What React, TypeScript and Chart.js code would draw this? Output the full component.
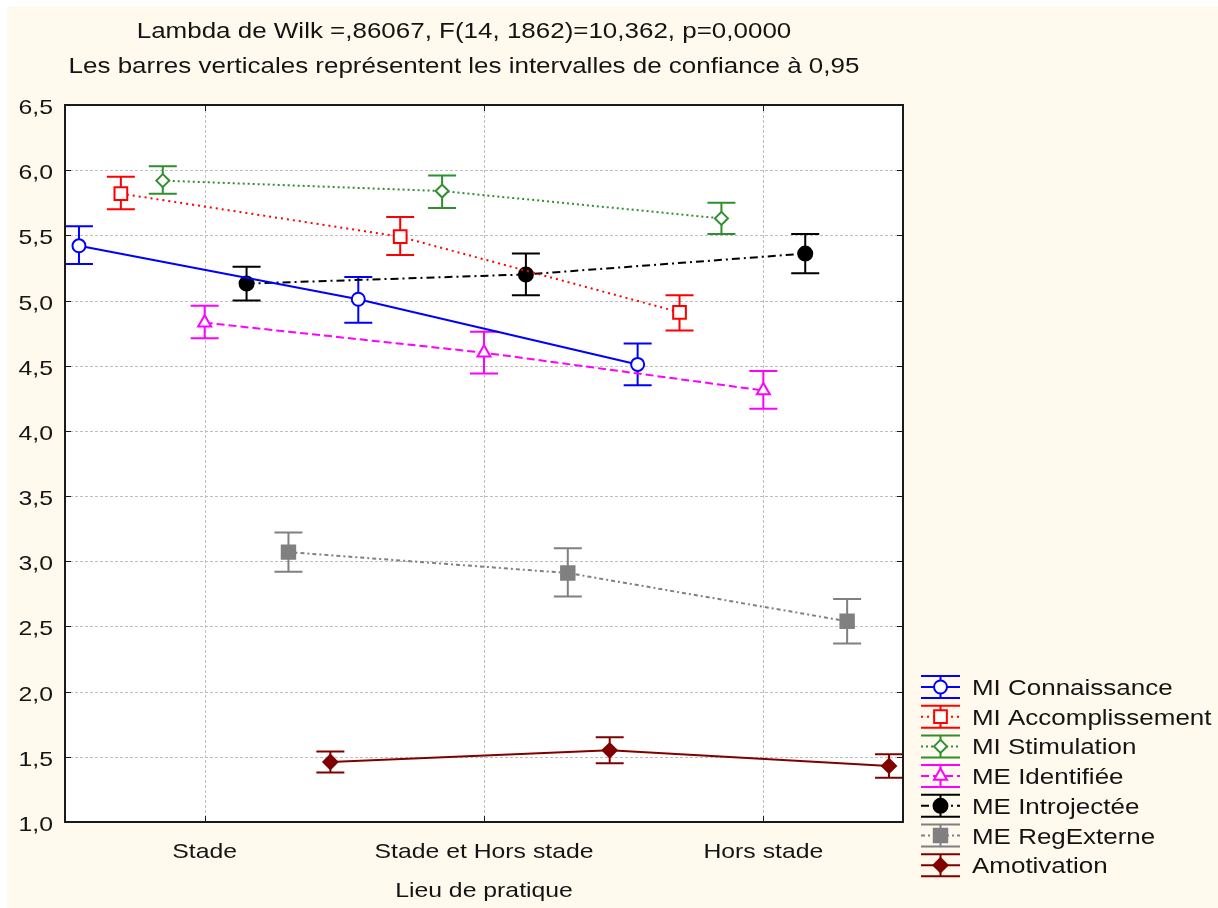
import React, { useEffect, useRef } from 'react';
import { Chart, registerables } from 'chart.js';

Chart.register(...registerables);

// ---------- data ----------
const categories = ['Stade', 'Stade et Hors stade', 'Hors stade'];
const yTickValues = [1.0, 1.5, 2.0, 2.5, 3.0, 3.5, 4.0, 4.5, 5.0, 5.5, 6.0, 6.5];
const titleLines = [
  'Lambda de Wilk =,86067, F(14, 1862)=10,362, p=0,0000',
  'Les barres verticales représentent les intervalles de confiance à 0,95',
];
const xAxisTitle = 'Lieu de pratique';

const seriesNames = [
  'MI Connaissance',
  'MI Accomplissement',
  'MI Stimulation',
  'ME Identifiée',
  'ME Introjectée',
  'ME RegExterne',
  'Amotivation',
];

const miConnaissance = [5.42, 5.01, 4.51];
const miConnaissanceHaut = [5.57, 5.18, 4.67];
const miConnaissanceBas = [5.28, 4.83, 4.35];

const miAccomplissement = [5.82, 5.49, 4.91];
const miAccomplissementHaut = [5.95, 5.64, 5.04];
const miAccomplissementBas = [5.7, 5.35, 4.77];

const miStimulation = [5.92, 5.84, 5.63];
const miStimulationHaut = [6.03, 5.96, 5.75];
const miStimulationBas = [5.82, 5.71, 5.51];

const meIdentifiee = [4.83, 4.6, 4.31];
const meIdentifieeHaut = [4.96, 4.76, 4.46];
const meIdentifieeBas = [4.71, 4.44, 4.17];

const meIntrojectee = [5.13, 5.2, 5.36];
const meIntrojecteeHaut = [5.26, 5.36, 5.51];
const meIntrojecteeBas = [5.0, 5.04, 5.21];

const meRegExterne = [3.07, 2.91, 2.54];
const meRegExterneHaut = [3.22, 3.1, 2.71];
const meRegExterneBas = [2.92, 2.73, 2.37];

const amotivation = [1.46, 1.55, 1.43];
const amotivationHaut = [1.54, 1.65, 1.52];
const amotivationBas = [1.38, 1.45, 1.34];

// horizontal dodge of each series around the category centre (in category units)
const seriesOffsets = [-0.45, -0.3, -0.15, 0, 0.15, 0.3, 0.45];

// ---------- styles ----------
const FONT = '"Liberation Sans", Arial, sans-serif';
const TEXT_COLOR = '#141414';
const SX = 1.18;

type Style = {
  color: string;
  dash: number[];
  pointStyle: string;
  radius: number;
  fill: string;
};

const seriesStyles: Style[] = [
  { color: '#0000FF', dash: [], pointStyle: 'circle', radius: 6.5, fill: '#FFFFFF' },
  { color: '#FF0000', dash: [2, 4], pointStyle: 'rect', radius: 9, fill: '#FFFFFF' },
  { color: '#2F8F2F', dash: [2, 3], pointStyle: 'rectRot', radius: 6.5, fill: '#FFFFFF' },
  { color: '#FF00FF', dash: [8, 4], pointStyle: 'triangle', radius: 7.5, fill: '#FFFFFF' },
  { color: '#000000', dash: [8, 4, 2, 4], pointStyle: 'circle', radius: 7, fill: '#000000' },
  { color: '#808080', dash: [4, 3, 2, 3], pointStyle: 'rect', radius: 9.5, fill: '#808080' },
  { color: '#800000', dash: [], pointStyle: 'rectRot', radius: 7, fill: '#800000' },
];

const seriesMeans = [miConnaissance, miAccomplissement, miStimulation, meIdentifiee, meIntrojectee, meRegExterne, amotivation];
const seriesHigh = [miConnaissanceHaut, miAccomplissementHaut, miStimulationHaut, meIdentifieeHaut, meIntrojecteeHaut, meRegExterneHaut, amotivationHaut];
const seriesLow = [miConnaissanceBas, miAccomplissementBas, miStimulationBas, meIdentifieeBas, meIntrojecteeBas, meRegExterneBas, amotivationBas];

function fmt(v: number) {
  return v.toFixed(1).replace('.', ',');
}

function stretchText(ctx: CanvasRenderingContext2D, text: string, x: number, y: number, align: 'left' | 'center' | 'right', size: number) {
  ctx.save();
  ctx.font = `${size}px ${FONT}`;
  ctx.textBaseline = 'alphabetic';
  ctx.textAlign = 'left';
  ctx.fillStyle = TEXT_COLOR;
  const w = ctx.measureText(text).width * SX;
  const left = align === 'center' ? x - w / 2 : align === 'right' ? x - w : x;
  ctx.translate(left, y);
  ctx.scale(SX, 1);
  ctx.fillText(text, 0, 0);
  ctx.restore();
}

function drawMarker(ctx: CanvasRenderingContext2D, style: string, x: number, y: number, r: number, stroke: string, fill: string) {
  ctx.save();
  ctx.beginPath();
  if (style === 'circle') {
    ctx.arc(x, y, r, 0, Math.PI * 2);
  } else if (style === 'rect') {
    const s = r * Math.SQRT1_2;
    ctx.rect(x - s, y - s, 2 * s, 2 * s);
  } else if (style === 'rectRot') {
    ctx.moveTo(x, y - r);
    ctx.lineTo(x + r, y);
    ctx.lineTo(x, y + r);
    ctx.lineTo(x - r, y);
    ctx.closePath();
  } else if (style === 'triangle') {
    let rad = 0;
    ctx.moveTo(x + Math.sin(rad) * r, y - Math.cos(rad) * r);
    rad += (2 * Math.PI) / 3;
    ctx.lineTo(x + Math.sin(rad) * r, y - Math.cos(rad) * r);
    rad += (2 * Math.PI) / 3;
    ctx.lineTo(x + Math.sin(rad) * r, y - Math.cos(rad) * r);
    ctx.closePath();
  }
  ctx.fillStyle = fill;
  ctx.fill();
  ctx.setLineDash([]);
  ctx.lineWidth = 2;
  ctx.strokeStyle = stroke;
  ctx.stroke();
  ctx.restore();
}

const backgroundPlugin = {
  id: 'bg',
  beforeDraw(chart: any) {
    const { ctx, width, height, chartArea } = chart;
    ctx.save();
    ctx.fillStyle = '#FFFFFF';
    ctx.fillRect(0, 0, width, height);
    ctx.fillStyle = '#FFF9EE';
    ctx.fillRect(7, 6, width - 7, height - 6);
    ctx.fillStyle = '#FFFFFF';
    ctx.fillRect(chartArea.left, chartArea.top, chartArea.right - chartArea.left, chartArea.bottom - chartArea.top);
    ctx.restore();
  },
};

const gridPlugin = {
  id: 'grid',
  beforeDatasetsDraw(chart: any) {
    const { ctx, chartArea, scales } = chart;
    const { left, right, top, bottom } = chartArea;
    ctx.save();
    ctx.strokeStyle = '#BEBEBE';
    ctx.lineWidth = 1;
    ctx.setLineDash([3, 2]);
    yTickValues.forEach((v) => {
      const y = Math.round(scales.y.getPixelForValue(v)) + 0.5;
      if (y <= top + 2 || y >= bottom - 2) return;
      ctx.beginPath();
      ctx.moveTo(left, y);
      ctx.lineTo(right, y);
      ctx.stroke();
    });
    categories.forEach((_, i) => {
      const x = Math.round(scales.x.getPixelForValue(i + 1)) + 0.5;
      ctx.beginPath();
      ctx.moveTo(x, top);
      ctx.lineTo(x, bottom);
      ctx.stroke();
    });
    ctx.restore();
  },
};

const errorBarPlugin = {
  id: 'errorBars',
  beforeDatasetsDraw(chart: any) {
    const { ctx, scales } = chart;
    ctx.save();
    ctx.setLineDash([]);
    ctx.lineWidth = 2;
    seriesMeans.forEach((_, s) => {
      ctx.strokeStyle = seriesStyles[s].color;
      categories.forEach((__, i) => {
        const x = scales.x.getPixelForValue(i + 1 + seriesOffsets[s]);
        const yh = scales.y.getPixelForValue(seriesHigh[s][i]);
        const yl = scales.y.getPixelForValue(seriesLow[s][i]);
        ctx.beginPath();
        ctx.moveTo(x, yh);
        ctx.lineTo(x, yl);
        ctx.moveTo(x - 14, yh);
        ctx.lineTo(x + 14, yh);
        ctx.moveTo(x - 14, yl);
        ctx.lineTo(x + 14, yl);
        ctx.stroke();
      });
    });
    ctx.restore();
  },
};

const framePlugin = {
  id: 'frame',
  afterDatasetsDraw(chart: any) {
    const { ctx, chartArea, scales } = chart;
    const { left, right, top, bottom } = chartArea;
    ctx.save();
    ctx.setLineDash([]);
    ctx.strokeStyle = '#1a1a1a';
    ctx.lineWidth = 1;
    yTickValues.forEach((v) => {
      const y = Math.round(scales.y.getPixelForValue(v)) + 0.5;
      ctx.beginPath();
      ctx.moveTo(left, y);
      ctx.lineTo(left + 6, y);
      ctx.moveTo(right, y);
      ctx.lineTo(right - 6, y);
      ctx.stroke();
    });
    categories.forEach((_, i) => {
      const x = Math.round(scales.x.getPixelForValue(i + 1)) + 0.5;
      ctx.beginPath();
      ctx.moveTo(x, bottom);
      ctx.lineTo(x, bottom - 6);
      ctx.moveTo(x, top);
      ctx.lineTo(x, top + 6);
      ctx.stroke();
    });
    ctx.lineWidth = 2;
    ctx.strokeRect(left, top, right - left, bottom - top);
    ctx.restore();
  },
};

const textPlugin = {
  id: 'texts',
  afterDraw(chart: any) {
    const { ctx, chartArea, scales } = chart;
    // title
    stretchText(ctx, titleLines[0], 464, 38, 'center', 22);
    stretchText(ctx, titleLines[1], 464, 73, 'center', 22);
    // y tick labels
    yTickValues.forEach((v) => {
      const y = scales.y.getPixelForValue(v);
      stretchText(ctx, fmt(v), 53, y + 9, 'right', 21);
    });
    // x tick labels
    categories.forEach((c, i) => {
      const x = scales.x.getPixelForValue(i + 1);
      stretchText(ctx, c, x, 858, 'center', 21);
    });
    // x axis title
    stretchText(ctx, xAxisTitle, (chartArea.left + chartArea.right) / 2, 897, 'center', 21);
    // legend
    const lx0 = 921;
    const lx1 = 960;
    const mx = (lx0 + lx1) / 2;
    seriesNames.forEach((name, s) => {
      const st = seriesStyles[s];
      const ry = 687 + s * 29.7;
      ctx.save();
      ctx.strokeStyle = st.color;
      ctx.lineWidth = 2;
      ctx.setLineDash([]);
      ctx.beginPath();
      ctx.moveTo(lx0, ry - 11);
      ctx.lineTo(lx1, ry - 11);
      ctx.moveTo(lx0, ry + 11);
      ctx.lineTo(lx1, ry + 11);
      ctx.moveTo(mx, ry - 11);
      ctx.lineTo(mx, ry + 11);
      ctx.stroke();
      ctx.setLineDash(st.dash);
      ctx.beginPath();
      ctx.moveTo(lx0, ry);
      ctx.lineTo(lx1, ry);
      ctx.stroke();
      ctx.restore();
      drawMarker(ctx, st.pointStyle, mx, ry, st.radius, st.color, st.fill);
      stretchText(ctx, name, 972, ry + 8, 'left', 22);
    });
  },
};

const App = () => {
  const ref = useRef<HTMLCanvasElement>(null);
  useEffect(() => {
    const canvas = ref.current;
    if (!canvas) return;
    const datasets = seriesMeans.map((vals, s) => {
      const st = seriesStyles[s];
      return {
        label: seriesNames[s],
        data: vals.map((v, i) => ({ x: i + 1 + seriesOffsets[s], y: v })),
        borderColor: st.color,
        backgroundColor: st.fill,
        borderWidth: 2,
        borderDash: st.dash,
        pointStyle: st.pointStyle,
        pointRadius: st.radius,
        pointBorderWidth: 2,
        pointBorderColor: st.color,
        pointBackgroundColor: st.fill,
        fill: false,
        tension: 0,
        clip: false,
      };
    });
    const chart = new Chart(canvas, {
      type: 'line',
      data: { datasets } as any,
      options: {
        animation: false,
        responsive: false,
        devicePixelRatio: 1,
        layout: { padding: { left: 65, top: 105, right: 315, bottom: 86 } },
        plugins: {
          legend: { display: false },
          title: { display: false },
          tooltip: { enabled: false },
        },
        scales: {
          x: { type: 'linear', min: 0.5, max: 3.5, display: false },
          y: { type: 'linear', min: 1, max: 6.5, display: false },
        },
      } as any,
      plugins: [backgroundPlugin, gridPlugin, errorBarPlugin, framePlugin, textPlugin],
    });
    return () => chart.destroy();
  }, []);
  return (
    <div style={{ position: 'fixed', left: 0, top: 0, width: 1218, height: 908, background: '#fff' }}>
      <canvas ref={ref} width={1218} height={908} />
    </div>
  );
};

export default App;
